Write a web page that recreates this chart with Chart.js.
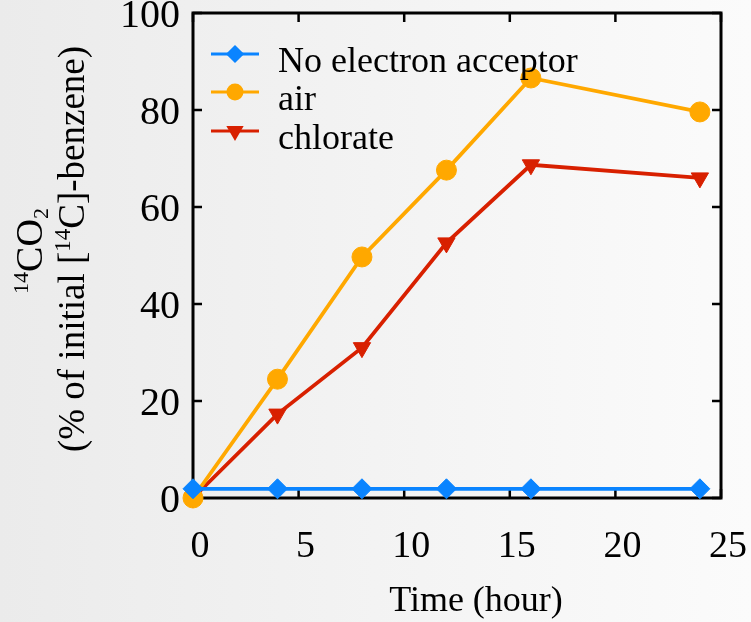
<!DOCTYPE html>
<html>
<head>
<meta charset="utf-8">
<script src="https://cdn.jsdelivr.net/npm/chart.js@4.4.0/dist/chart.umd.min.js"></script>
<style>
    html, body { margin: 0; padding: 0; }
    body { width: 751px; height: 622px; overflow: hidden; background: linear-gradient(to right, #ebebeb, #fbfbfb); }
</style>
</head>
<body>
<canvas id="grafico" width="751" height="622"></canvas>
<script>
const horas = [0, 4, 8, 12, 16, 24];
const sinAceptor = [1.9, 1.9, 1.9, 1.9, 1.9, 1.9];
const aire = [0, 24.5, 49.7, 67.6, 86.6, 79.6];
const clorato = [0, 17.3, 31.0, 52.6, 68.7, 66.0];
const nombres = ['No electron acceptor', 'air', 'chlorate'];
const xTicks = [0, 5, 10, 15, 20, 25];
const yTicks = [0, 20, 40, 60, 80, 100];

const fuente = '"Liberation Serif", "Times New Roman", serif';
const puntos = vals => horas.map((h, i) => ({ x: h, y: vals[i] }));

const estilos = [
    { color: '#0a84ff', forma: 'rectRot', radio: 10, rot: 0 },
    { color: '#ffa800', forma: 'circle', radio: 10, rot: 0 },
    { color: '#d82000', forma: 'triangle', radio: 10, rot: 180 }
];
const series = [sinAceptor, aire, clorato];

// marco y marcas hacia dentro en los cuatro lados
const marcoInterno = {
    id: 'marcoInterno',
    beforeDatasetsDraw(chart) {
        const { ctx, chartArea: a, scales: { x, y } } = chart;
        const largo = 9;
        ctx.save();
        ctx.strokeStyle = '#000';
        ctx.lineWidth = 3;
        ctx.strokeRect(a.left, a.top, a.right - a.left, a.bottom - a.top);
        ctx.lineWidth = 2.5;
        ctx.beginPath();
        x.ticks.forEach(t => {
            const px = x.getPixelForValue(t.value);
            ctx.moveTo(px, a.bottom); ctx.lineTo(px, a.bottom - largo);
            ctx.moveTo(px, a.top); ctx.lineTo(px, a.top + largo);
        });
        y.ticks.forEach(t => {
            const py = y.getPixelForValue(t.value);
            ctx.moveTo(a.left, py); ctx.lineTo(a.left + largo, py);
            ctx.moveTo(a.right, py); ctx.lineTo(a.right - largo, py);
        });
        ctx.stroke();
        ctx.restore();
    }
};

function textoMixto(ctx, partes, cx, base) {
    let total = 0;
    partes.forEach(p => { ctx.font = p.size + 'px ' + fuente; p.w = ctx.measureText(p.t).width; total += p.w; });
    let x = cx - total / 2;
    partes.forEach(p => {
        ctx.font = p.size + 'px ' + fuente;
        ctx.fillText(p.t, x, base + (p.dy || 0));
        x += p.w;
    });
}

const titulosYLeyenda = {
    id: 'titulosYLeyenda',
    afterDatasetsDraw(chart) {
        const { ctx, chartArea: a } = chart;
        ctx.save();
        ctx.fillStyle = '#000';
        ctx.textAlign = 'left';
        ctx.textBaseline = 'alphabetic';

        // leyenda
        const filas = [54, 92, 131];
        nombres.forEach((n, i) => {
            const e = estilos[i], fy = filas[i];
            ctx.strokeStyle = e.color;
            ctx.lineWidth = 3;
            ctx.beginPath(); ctx.moveTo(211, fy); ctx.lineTo(259, fy); ctx.stroke();
            ctx.fillStyle = e.color;
            Chart.helpers.drawPoint(ctx, { pointStyle: e.forma, radius: 7, rotation: e.rot, borderWidth: 1 }, 235, fy);
            ctx.fill();
            ctx.fillStyle = '#000';
            ctx.font = '36px ' + fuente;
            ctx.fillText(n, 278, fy + 18);
        });

        // titulo eje x
        textoMixto(ctx, [{ t: 'Time (hour)', size: 36 }], (a.left + a.right) / 2 + 19, 611);

        // titulo eje y (girado)
        ctx.save();
        ctx.translate(42, 251);
        ctx.rotate(-Math.PI / 2);
        textoMixto(ctx, [
            { t: '14', size: 22, dy: -14 },
            { t: 'CO', size: 38 },
            { t: '2', size: 22, dy: 6 }
        ], 0, 0);
        ctx.restore();
        ctx.save();
        ctx.translate(84, 249);
        ctx.rotate(-Math.PI / 2);
        textoMixto(ctx, [
            { t: '(% of initial [', size: 37 },
            { t: '14', size: 23, dy: -14 },
            { t: 'C]-benzene)', size: 37 }
        ], 0, 0);
        ctx.restore();
        ctx.restore();
    }
};

new Chart(document.getElementById('grafico'), {
    type: 'line',
    data: {
        datasets: series.map((s, i) => ({
            label: nombres[i],
            data: puntos(s),
            borderColor: estilos[i].color,
            backgroundColor: estilos[i].color,
            pointBackgroundColor: estilos[i].color,
            pointBorderColor: estilos[i].color,
            pointStyle: estilos[i].forma,
            pointRadius: estilos[i].radio,
            pointRotation: estilos[i].rot,
            borderWidth: 3.8,
            pointBorderWidth: 1,
            tension: 0,
            clip: false
        }))
    },
    options: {
        responsive: false,
        animation: false,
        devicePixelRatio: 1,
        layout: { padding: { left: 0, top: 13, right: 30, bottom: 0 } },
        plugins: { legend: { display: false }, tooltip: { enabled: false } },
        scales: {
            x: {
                type: 'linear', min: 0, max: 25,
                afterBuildTicks: s => { s.ticks = xTicks.map(v => ({ value: v })); },
                afterFit: s => { s.height = 124; s.paddingLeft = 0; s.paddingRight = 0; },
                grid: { display: false, drawTicks: false },
                border: { display: false },
                ticks: { color: '#000', padding: 30, labelOffset: 7, font: { family: fuente, size: 38, lineHeight: 1 } }
            },
            y: {
                min: 0, max: 100,
                afterBuildTicks: s => { s.ticks = yTicks.map(v => ({ value: v })); },
                afterFit: s => { s.width = 193; s.paddingTop = 0; s.paddingBottom = 0; },
                grid: { display: false, drawTicks: false },
                border: { display: false },
                ticks: { color: '#000', padding: 13, labelOffset: 3, font: { family: fuente, size: 40, lineHeight: 1 } }
            }
        }
    },
    plugins: [marcoInterno, titulosYLeyenda]
});
</script>
</body>
</html>
